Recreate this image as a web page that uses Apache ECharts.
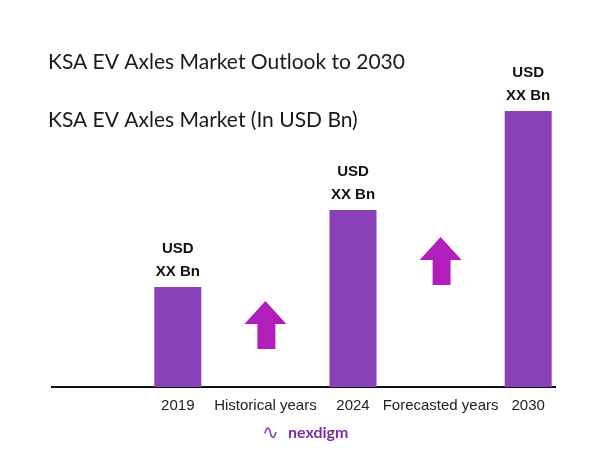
<!DOCTYPE html>
<html>
<head>
<meta charset="utf-8">
<script src="https://cdn.jsdelivr.net/npm/echarts@6/dist/echarts.min.js"></script>
<style>html,body{margin:0;padding:0;background:#fff}#c{width:602px;height:451px}</style>
</head>
<body>
<div id="c"></div>
<script>
var categories = ['2019', 'Historical years', '2024', 'Forecasted years', '2030'];
var barValues = [1.0, null, 1.77, null, 2.76];
var barLabels = ['USD\nXX Bn', '', 'USD\nXX Bn', '', 'USD\nXX Bn'];
var arrowLevels = [null, 0.62, null, 1.26, null];
var titleText = 'KSA EV Axles Market Outlook to 2030';
var subtitleText = 'KSA EV Axles Market (In USD Bn)';

var chart = echarts.init(document.getElementById('c'));
chart.setOption({
  backgroundColor: '#ffffff',
  animation: false,
  title: [
    { text: titleText, left: 43, top: 47, textStyle: { fontFamily: 'Lato', fontWeight: 'normal', fontSize: 21, color: '#1a1a1a' } },
    { text: subtitleText, left: 43, top: 105, textStyle: { fontFamily: 'Lato', fontWeight: 'normal', fontSize: 21, color: '#1a1a1a' } }
  ],
  grid: { left: 134, right: 30, top: 87, bottom: 64 },
  xAxis: {
    type: 'category',
    data: categories,
    axisLine: { show: false },
    axisTick: { show: false },
    axisLabel: { margin: 11, fontFamily: 'Liberation Sans', fontSize: 15, color: '#222', interval: 0 }
  },
  yAxis: {
    type: 'value', min: 0, max: 3,
    show: false
  },
  series: [
    {
      type: 'bar',
      data: barValues,
      barWidth: 47,
      itemStyle: { color: '#8841B8' },
      label: {
        show: true, position: 'top', distance: 4,
        formatter: function (p) { return barLabels[p.dataIndex]; },
        fontFamily: 'Liberation Sans', fontWeight: 'bold', fontSize: 15, lineHeight: 23, color: '#111'
      }
    },
    {
      type: 'scatter',
      data: arrowLevels,
      symbol: 'path://M21 0 L42 23 L31 23 L31 48 L13 48 L13 23 L0 23 Z',
      symbolSize: [42, 48],
      itemStyle: { color: '#B11EB9', opacity: 1 },
      silent: true
    }
  ],
  graphic: [
    { type: 'line', shape: { x1: 51, y1: 387, x2: 556, y2: 387 }, style: { stroke: '#111', lineWidth: 2 } },
    { type: 'text', left: 262, top: 424, style: { text: '∿', fontSize: 20, fill: '#8a3fc0', fontFamily: 'DejaVu Sans' } },
    { type: 'text', left: 288, top: 425, style: { text: 'nexdigm', fontSize: 16, fontWeight: 'bold', fill: '#7a2ea8', fontFamily: 'Lato' } }
  ]
});
</script>
</body>
</html>
